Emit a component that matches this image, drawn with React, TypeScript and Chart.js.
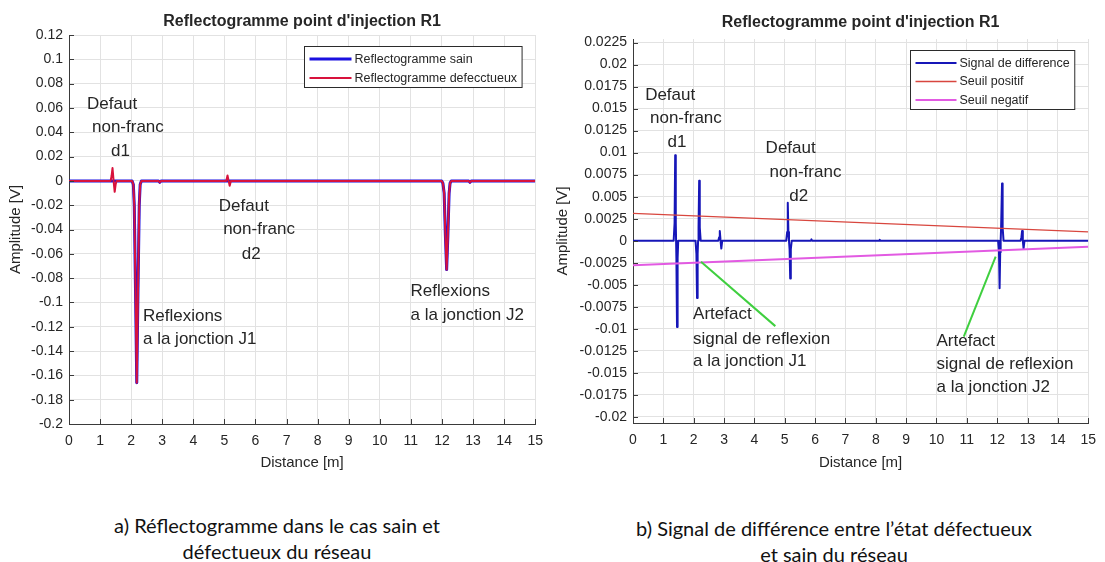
import React, { useEffect, useRef } from 'react';
import { Chart, registerables } from 'chart.js';

Chart.register(...registerables);

const FONT = "'Liberation Sans', Arial, Helvetica, sans-serif";
const TXT = '#262626';
const AXIS = '#3a3a3a';
const GRID = '#e2e2e2';

// ---------- shared x ticks ----------
const distTicks = [0, 1, 2, 3, 4, 5, 6, 7, 8, 9, 10, 11, 12, 13, 14, 15];

// ---------- panel a : reflectogrammes ----------
const titleA = "Reflectogramme point d'injection R1";
const yTicksA = [-0.2, -0.18, -0.16, -0.14, -0.12, -0.1, -0.08, -0.06, -0.04, -0.02, 0, 0.02, 0.04, 0.06, 0.08, 0.1, 0.12];
const distA = [0, 1.34, 1.37, 1.40, 1.435, 1.47, 1.50, 1.53, 2.03, 2.07, 2.10, 2.14, 2.18, 2.22, 2.26, 2.29, 2.33, 2.88, 2.92, 2.96, 5.06, 5.10, 5.135, 5.17, 5.21, 11.99, 12.03, 12.07, 12.11, 12.15, 12.19, 12.23, 12.26, 12.30, 12.86, 12.9, 12.94, 15];
const sainA = [0, 0, 0, 0, 0, 0, 0, 0, 0, -0.003, -0.02, -0.09, -0.166, -0.09, -0.02, -0.003, 0, 0, -0.0012, 0, 0, 0, 0, 0, 0, 0, -0.002, -0.01, -0.045, -0.073, -0.045, -0.01, -0.002, 0, 0, -0.0012, 0, 0];
const defectA = [0, 0, 0.004, 0.0105, 0, -0.009, -0.003, 0, 0, -0.003, -0.02, -0.09, -0.166, -0.09, -0.02, -0.003, 0, 0, -0.0012, 0, 0, 0.0045, 0, -0.004, 0, 0, -0.002, -0.01, -0.045, -0.073, -0.045, -0.01, -0.002, 0, 0, -0.0012, 0, 0];
const notesA = [
  { x: 0.58, y: 0.063, text: 'Defaut' },
  { x: 0.74, y: 0.044, text: 'non-franc' },
  { x: 1.35, y: 0.024, text: 'd1' },
  { x: 4.82, y: -0.021, text: 'Defaut' },
  { x: 4.96, y: -0.040, text: 'non-franc' },
  { x: 5.56, y: -0.0606, text: 'd2' },
  { x: 2.38, y: -0.1115, text: 'Reflexions' },
  { x: 2.38, y: -0.1307, text: 'a la jonction J1' },
  { x: 10.99, y: -0.0911, text: 'Reflexions' },
  { x: 10.99, y: -0.111, text: 'a la jonction J2' },
];

// ---------- panel b : signal de difference ----------
const titleB = "Reflectogramme point d'injection R1";
const yTicksB = [-0.02, -0.0175, -0.015, -0.0125, -0.01, -0.0075, -0.005, -0.0025, 0, 0.0025, 0.005, 0.0075, 0.01, 0.0125, 0.015, 0.0175, 0.02, 0.0225];
const distB = [0, 1.34, 1.37, 1.39, 1.41, 1.42, 1.43, 1.45, 1.47, 1.49, 2.06, 2.09, 2.11, 2.13, 2.145, 2.16, 2.18, 2.20, 2.23, 2.81, 2.84, 2.86, 2.885, 2.91, 2.94, 5.05, 5.08, 5.10, 5.12, 5.14, 5.16, 5.18, 5.20, 5.23, 5.86, 5.88, 5.90, 8.11, 8.13, 8.15, 12.03, 12.06, 12.08, 12.10, 12.115, 12.13, 12.16, 12.18, 12.21, 12.77, 12.80, 12.82, 12.845, 12.87, 12.90, 15];
const diffB = [0, 0, 0.002, 0.0097, 0.002, 0, -0.002, -0.0098, -0.002, 0, 0, -0.0015, -0.0065, -0.0015, 0, 0.0015, 0.0068, 0.0015, 0, 0, 0.0004, 0.0011, 0, -0.0009, 0, 0, 0.001, 0.0043, 0.001, 0, -0.001, -0.0043, -0.001, 0, 0, 0.00015, 0, 0, 0.00012, 0, 0, -0.0013, -0.0054, -0.0013, 0, 0.0015, 0.0065, 0.0015, 0, 0, 0.0004, 0.0011, 0, -0.0009, 0, 0];
const seuilX = [0, 15];
const seuilPos = [0.0031, 0.001];
const seuilNeg = [-0.0028, -0.0007];
const notesB = [
  { x: 0.40, y: 0.0165, text: 'Defaut' },
  { x: 0.56, y: 0.0139, text: 'non-franc' },
  { x: 1.14, y: 0.0112, text: 'd1' },
  { x: 4.37, y: 0.0105, text: 'Defaut' },
  { x: 4.50, y: 0.0078, text: 'non-franc' },
  { x: 5.15, y: 0.0050, text: 'd2' },
  { x: 1.98, y: -0.0084, text: 'Artefact' },
  { x: 1.98, y: -0.0112, text: 'signal de reflexion' },
  { x: 1.98, y: -0.0137, text: 'a la jonction J1' },
  { x: 10.0, y: -0.0114, text: 'Artefact' },
  { x: 10.0, y: -0.0140, text: 'signal de reflexion' },
  { x: 10.0, y: -0.0166, text: 'a la jonction J2' },
];
const pointersB = [
  { x1: 2.24, y1: -0.0024, x2: 4.69, y2: -0.0097 },
  { x1: 11.95, y1: -0.0018, x2: 10.9, y2: -0.0109 },
];

const captionA = ['a) Réflectogramme dans le cas sain et', 'défectueux du réseau'];
const captionB = ['b) Signal de différence entre l’état défectueux', 'et sain du réseau'];

type Note = { x: number; y: number; text: string };
type Pointer = { x1: number; y1: number; x2: number; y2: number };

const pts = (xs: number[], ys: number[]) => xs.map((x, i) => ({ x, y: ys[i] }));

interface Spec {
  key: string;
  title: string;
  yMin: number;
  yMax: number;
  yTicks: number[];
  datasets: any[];
  notes: Note[];
  pointers: Pointer[];
  yAxisWidth: number;
  yTitlePad: number;
  padTop: number;
  padRight: number;
  xAxisHeight: number;
  titleGap: number;
  legendStep: number;
  legendLine: number;
}

function decor(spec: Spec) {
  return {
    id: 'decor_' + spec.key,
    afterDatasetsDraw(chart: any) {
      const { ctx, chartArea: a, scales } = chart;
      const xs = scales.x;
      const ys = scales.y;
      ctx.save();
      // pointers
      ctx.strokeStyle = '#3fcf3f';
      ctx.lineWidth = 2;
      for (const p of spec.pointers) {
        ctx.beginPath();
        ctx.moveTo(xs.getPixelForValue(p.x1), ys.getPixelForValue(p.y1));
        ctx.lineTo(xs.getPixelForValue(p.x2), ys.getPixelForValue(p.y2));
        ctx.stroke();
      }
      // inward ticks
      ctx.strokeStyle = AXIS;
      ctx.lineWidth = 1;
      for (const v of distTicks) {
        const px = Math.round(xs.getPixelForValue(v)) + 0.5;
        ctx.beginPath();
        ctx.moveTo(px, a.bottom);
        ctx.lineTo(px, a.bottom - 5);
        ctx.stroke();
      }
      for (const v of spec.yTicks) {
        const py = Math.round(ys.getPixelForValue(v)) + 0.5;
        ctx.beginPath();
        ctx.moveTo(a.left, py);
        ctx.lineTo(a.left + 5, py);
        ctx.stroke();
      }
      // annotation texts
      ctx.fillStyle = TXT;
      ctx.font = `17px ${FONT}`;
      ctx.textAlign = 'left';
      ctx.textBaseline = 'middle';
      for (const n of spec.notes) {
        ctx.fillText(n.text, xs.getPixelForValue(n.x), ys.getPixelForValue(n.y));
      }
      // title
      ctx.font = `bold 16px ${FONT}`;
      ctx.textAlign = 'center';
      ctx.fillText(spec.title, (a.left + a.right) / 2, a.top - spec.titleGap);
      // legend
      const ds = chart.data.datasets;
      ctx.font = `12.5px ${FONT}`;
      let tw = 0;
      for (const d of ds) tw = Math.max(tw, ctx.measureText(d.label).width);
      const lineLen = spec.legendLine;
      const bw = 5 + lineLen + 3 + tw + 5;
      const bh = 22 + spec.legendStep * (ds.length - 1);
      const bx = Math.round(a.right - 14 - bw) + 0.5;
      const by = Math.round(a.top + 11) + 0.5;
      ctx.fillStyle = '#ffffff';
      ctx.fillRect(bx, by, bw, bh);
      ctx.strokeStyle = '#2b2b2b';
      ctx.lineWidth = 1;
      ctx.strokeRect(bx, by, bw, bh);
      ds.forEach((d: any, i: number) => {
        const cy = by + 12.5 + i * spec.legendStep;
        ctx.strokeStyle = d.borderColor;
        ctx.lineWidth = d.borderWidth;
        ctx.beginPath();
        ctx.moveTo(bx + 5, cy);
        ctx.lineTo(bx + 5 + lineLen, cy);
        ctx.stroke();
        ctx.fillStyle = TXT;
        ctx.textAlign = 'left';
        ctx.fillText(d.label, bx + 5 + lineLen + 3, cy + 0.5);
      });
      ctx.restore();
    },
  };
}

function Panel({ spec, left, width, height }: { spec: Spec; left: number; width: number; height: number }) {
  const ref = useRef<HTMLCanvasElement | null>(null);
  useEffect(() => {
    if (!ref.current) return;
    const chart = new Chart(ref.current, {
      type: 'line',
      data: { datasets: spec.datasets },
      options: {
        responsive: false,
        maintainAspectRatio: false,
        animation: false,
        events: [],
        layout: { padding: { top: spec.padTop, right: spec.padRight, left: 0, bottom: 0 } },
        elements: { point: { radius: 0 }, line: { tension: 0, borderJoinStyle: 'round' } },
        plugins: { legend: { display: false }, tooltip: { enabled: false }, title: { display: false } },
        scales: {
          x: {
            type: 'linear',
            min: 0,
            max: 15,
            afterBuildTicks: (s: any) => {
              s.ticks = distTicks.map((v) => ({ value: v }));
            },
            afterFit: (s: any) => {
              s.height = spec.xAxisHeight;
            },
            grid: { color: GRID, lineWidth: 1, drawTicks: false },
            border: { display: true, color: AXIS, width: 1 },
            ticks: {
              padding: 9,
              color: TXT,
              autoSkip: false,
              maxRotation: 0,
              font: { size: 14, family: FONT },
              callback: (v: any) => String(v),
            },
            title: {
              display: true,
              text: 'Distance [m]',
              color: TXT,
              font: { size: 15, family: FONT },
              padding: { top: 0, bottom: 18 },
            },
          },
          y: {
            type: 'linear',
            min: spec.yMin,
            max: spec.yMax,
            afterBuildTicks: (s: any) => {
              s.ticks = spec.yTicks.map((v) => ({ value: v }));
            },
            afterFit: (s: any) => {
              s.width = spec.yAxisWidth;
            },
            grid: { color: GRID, lineWidth: 1, drawTicks: false },
            border: { display: true, color: AXIS, width: 1 },
            ticks: {
              padding: 6,
              color: TXT,
              autoSkip: false,
              font: { size: 14, family: FONT },
              callback: (v: any) => String(v),
            },
            title: {
              display: true,
              text: 'Amplitude [V]',
              color: TXT,
              font: { size: 15, family: FONT },
              padding: { top: spec.yTitlePad, bottom: 0 },
            },
          },
        },
      } as any,
      plugins: [decor(spec)],
    });
    return () => chart.destroy();
  }, [spec]);
  return (
    <canvas
      ref={ref}
      width={width}
      height={height}
      style={{ position: 'absolute', left, top: 0, width, height }}
    />
  );
}

const specA: Spec = {
  key: 'a',
  title: titleA,
  yMin: -0.2,
  yMax: 0.12,
  yTicks: yTicksA,
  datasets: [
    { label: 'Reflectogramme sain', data: pts(distA, sainA), borderColor: '#1a10e0', borderWidth: 3, order: 2, fill: false },
    { label: 'Reflectogramme defecctueux', data: pts(distA, defectA), borderColor: '#d8123c', borderWidth: 2, order: 1, fill: false },
  ],
  notes: notesA,
  pointers: [],
  yAxisWidth: 69,
  yTitlePad: 7,
  padTop: 35,
  padRight: 16,
  xAxisHeight: 66,
  titleGap: 13,
  legendStep: 19,
  legendLine: 42,
};

const specB: Spec = {
  key: 'b',
  title: titleB,
  yMin: -0.0207,
  yMax: 0.0229,
  yTicks: yTicksB,
  datasets: [
    { label: 'Signal de difference', data: pts(distB, diffB), borderColor: '#1616b8', borderWidth: 2, order: 3, fill: false },
    { label: 'Seuil positif', data: pts(seuilX, seuilPos), borderColor: '#d8463e', borderWidth: 1.3, order: 2, fill: false },
    { label: 'Seuil negatif', data: pts(seuilX, seuilNeg), borderColor: '#e25ae2', borderWidth: 2, order: 1, fill: false },
  ],
  notes: notesB,
  pointers: pointersB,
  yAxisWidth: 81,
  yTitlePad: 2,
  padTop: 39,
  padRight: 8,
  xAxisHeight: 67,
  titleGap: 16,
  legendStep: 18.5,
  legendLine: 41,
};

const captionStyle: React.CSSProperties = {
  position: 'absolute',
  width: 560,
  textAlign: 'center',
  fontFamily: "Lato, 'Open Sans', sans-serif",
  fontSize: 20,
  lineHeight: '26px',
  color: '#111',
  whiteSpace: 'nowrap',
};

export default function App() {
  return (
    <div
      style={{
        position: 'absolute',
        left: 0,
        top: 0,
        width: 1105,
        height: 562,
        background: '#ffffff',
        overflow: 'hidden',
      }}
    >
      <Panel spec={specA} left={0} width={552} height={490} />
      <Panel spec={specB} left={552} width={553} height={490} />
      <div style={{ ...captionStyle, left: 277 - 280, top: 512 }}>
        {captionA[0]}
        <br />
        {captionA[1]}
      </div>
      <div style={{ ...captionStyle, left: 834 - 280, top: 515 }}>
        {captionB[0]}
        <br />
        {captionB[1]}
      </div>
    </div>
  );
}
